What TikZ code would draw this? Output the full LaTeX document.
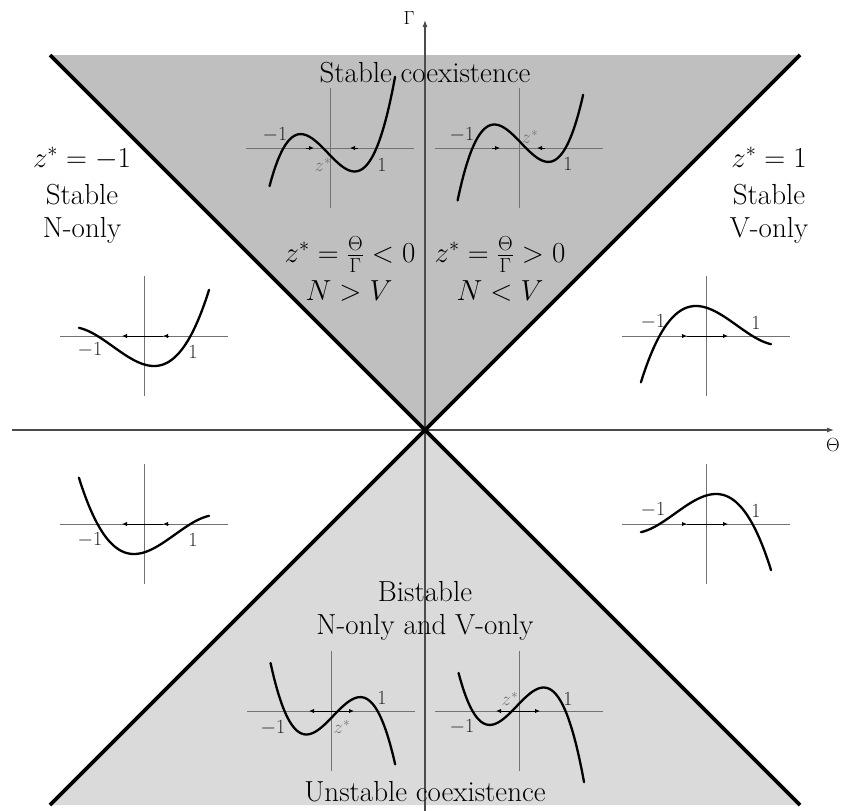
\RequirePackage{fix-cm}
\documentclass[tikz,border=0pt]{standalone}
\usetikzlibrary{arrows.meta}
\begin{document}
\begin{tikzpicture}[x=1pt,y=-1pt,
  big/.style={font=\fontsize{29}{34}\selectfont, inner sep=0pt, anchor=base},
  axlab/.style={font=\fontsize{19}{22}\selectfont, inner sep=0pt},
  small/.style={font=\fontsize{20}{24}\selectfont, inner sep=0pt, text=black!85},
  zlab/.style={font=\fontsize{19}{23}\selectfont, inner sep=0pt, text=black!55},
  mainaxis/.style={draw=black!70, line width=1.1pt, -{Latex[length=7pt,width=5pt]}},
  maxis/.style={draw=black!55, line width=1pt},
  curve/.style={line width=2.3pt, line join=round, line cap=round},
  flow/.style={line width=1pt, -{Latex[length=5pt,width=4.5pt]}},
  flowtwo/.style={line width=1pt, {Latex[length=5pt,width=4.5pt]}-{Latex[length=5pt,width=4.5pt]}},
  boundary/.style={line width=3.8pt},
]
\useasboundingbox (0,0) rectangle (841,811);
\definecolor{topgray}{gray}{0.75}
\definecolor{botgray}{gray}{0.855}
% corners and centre
\coordinate (O) at (425,430);
\coordinate (TLc) at (50,55);
\coordinate (TRc) at (800,55);
\coordinate (BLc) at (50,805);
\coordinate (BRc) at (800,805);
% regions
\fill[topgray] (TLc) -- (TRc) -- (O) -- cycle;
\fill[botgray] (O) -- (BRc) -- (BLc) -- cycle;
% main axes
\coordinate (xs) at (12,430);
\coordinate (xe) at (834,430);
\coordinate (ys) at (425,811);
\coordinate (ye) at (425,20);
\draw[mainaxis] (xs) -- (xe);
\draw[mainaxis] (ys) -- (ye);
\node[axlab] (gam) at (409,18) {$\Gamma$};
\node[axlab, anchor=east] (the) at (840,445) {$\Theta$};
% boundaries
\draw[boundary] (TLc) -- (BRc);
\draw[boundary] (TRc) -- (BLc);

% ---- top-left mini plot (stable coexistence, z*<0)
\begin{scope}[shift={(330,148)}]
  \draw[maxis] (-84,0) -- (84,0);
  \draw[maxis] (0,-60) -- (0,60);
  \draw[curve] plot[domain=-1.3:1.4, samples=80, smooth] ({46.5*\x},{-48*(\x*\x-1)*(\x+0.15)});
  \draw[flow] (-24,0) -- (-16,0);
  \draw[flow] (28,0) -- (20,0);
  \node[small] (tlm) at (-55,-13) {$-1$};
  \node[small] (tlp) at (52,17) {$1$};
  \node[zlab] (tlz) at (-7,17) {$z^*$};
\end{scope}
% ---- top-right mini plot (stable coexistence, z*>0)
\begin{scope}[shift={(519,148)}]
  \draw[maxis] (-84,0) -- (84,0);
  \draw[maxis] (0,-60) -- (0,60);
  \draw[curve] plot[domain=-1.32:1.38, samples=80, smooth] ({46.5*\x},{-48*(\x*\x-1)*(\x-0.15)});
  \draw[flow] (-27,0) -- (-19,0);
  \draw[flow] (26,0) -- (18,0);
  \node[small] (trm) at (-57,-13) {$-1$};
  \node[small] (trp) at (49,16) {$1$};
  \node[zlab] (trz) at (11,-11) {$z^*$};
\end{scope}
% ---- left mini plot (N-only, Gamma>0)
\begin{scope}[shift={(144,336)}]
  \draw[maxis] (-84,0) -- (84,0);
  \draw[maxis] (0,-60) -- (0,60);
  \draw[curve] plot[domain=-1.4:1.4, samples=80, smooth] ({46.5*\x},{-14.2*(\x*\x-1)*(\x+2)});
  \draw[flow] (24,0) -- (19,0);
  \draw[flow] (19,0) -- (-22,0);
  \node[small] (lm) at (-54,14) {$-1$};
  \node[small] (lp) at (49,16) {$1$};
\end{scope}
% ---- right mini plot (V-only, Gamma>0)
\begin{scope}[shift={(706,336)}]
  \draw[maxis] (-84,0) -- (84,0);
  \draw[maxis] (0,-60) -- (0,60);
  \draw[curve] plot[domain=-1.4:1.4, samples=80, smooth] ({46.5*\x},{-14.2*(\x*\x-1)*(\x-2)});
  \draw[flow] (-24,0) -- (-19,0);
  \draw[flow] (-19,0) -- (22,0);
  \node[small] (rm) at (-53,-14) {$-1$};
  \node[small] (rp) at (50,-13) {$1$};
\end{scope}
% ---- lower-left mini plot (N-only, Gamma<0)
\begin{scope}[shift={(144,524)}]
  \draw[maxis] (-84,0) -- (84,0);
  \draw[maxis] (0,-60) -- (0,60);
  \draw[curve] plot[domain=-1.4:1.4, samples=80, smooth] ({46.5*\x},{-14.2*(\x*\x-1)*(2-\x)});
  \draw[flow] (24,0) -- (19,0);
  \draw[flow] (19,0) -- (-22,0);
  \node[small] (blm) at (-54,16) {$-1$};
  \node[small] (blp) at (49,16) {$1$};
\end{scope}
% ---- lower-right mini plot (V-only, Gamma<0)
\begin{scope}[shift={(706,524)}]
  \draw[maxis] (-84,0) -- (84,0);
  \draw[maxis] (0,-60) -- (0,60);
  \draw[curve] plot[domain=-1.4:1.4, samples=80, smooth] ({46.5*\x},{14.2*(\x*\x-1)*(\x+2)});
  \draw[flow] (-24,0) -- (-19,0);
  \draw[flow] (-19,0) -- (22,0);
  \node[small] (brm) at (-53,-14) {$-1$};
  \node[small] (brp) at (50,-13) {$1$};
\end{scope}
% ---- bottom-left mini plot (unstable coexistence, z*>0)
\begin{scope}[shift={(331,711)}]
  \draw[maxis] (-84,0) -- (84,0);
  \draw[maxis] (0,-60) -- (0,60);
  \draw[curve] plot[domain=-1.3:1.38, samples=80, smooth] ({46.5*\x},{48*(\x*\x-1)*(\x-0.15)});
  \draw[flowtwo] (-22,0) -- (23,0);
  \node[small] (bolm) at (-58,17) {$-1$};
  \node[small] (bolp) at (51,-13) {$1$};
  \node[zlab] (bolz) at (11,16) {$z^*$};
\end{scope}
% ---- bottom-right mini plot (unstable coexistence, z*<0)
\begin{scope}[shift={(519,711)}]
  \draw[maxis] (-84,0) -- (84,0);
  \draw[maxis] (0,-60) -- (0,60);
  \draw[curve] plot[domain=-1.3:1.4, samples=80, smooth] ({46.5*\x},{48*(\x*\x-1)*(\x+0.15)});
  \draw[flowtwo] (-23,0) -- (21,0);
  \node[small] (borm) at (-57,16) {$-1$};
  \node[small] (borp) at (49,-12) {$1$};
  \node[zlab] (borz) at (-9,-12) {$z^*$};
\end{scope}

% ---- region texts
\node[big] (stc) at (425,82) {Stable coexistence};
\node[big] (lz) at (82,167) {$z^*=-1$};
\node[big] (ls) at (82,204) {Stable};
\node[big] (ln) at (82,237) {N-only};
\node[big] (rz) at (769,167) {$z^*=1$};
\node[big] (rs) at (769,204) {Stable};
\node[big] (rv) at (769,237) {V-only};
\node[big] (mlz) at (350,262) {$z^*=\frac{\Theta}{\Gamma}<0$};
\node[big] (mln) at (349,300) {$N>V$};
\node[big] (mrz) at (500,262) {$z^*=\frac{\Theta}{\Gamma}>0$};
\node[big] (mrn) at (500,300) {$N<V$};
\node[big] (bis) at (425,601) {Bistable};
\node[big] (bnv) at (425,634) {N-only and V-only};
\node[big] (unc) at (425,801) {Unstable coexistence};
\end{tikzpicture}
\end{document}
